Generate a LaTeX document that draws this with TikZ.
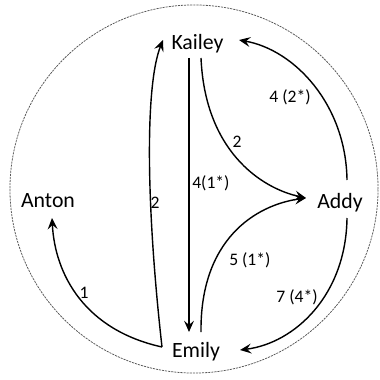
\documentclass[tikz,border=0pt]{standalone}
\usepackage{fontspec}
\setmainfont{Carlito}
\usetikzlibrary{arrows.meta}
\begin{document}
\begin{tikzpicture}[x=0.025cm,y=-0.025cm,
  who/.style={anchor=base, inner sep=0pt, font=\fontsize{15.5}{18}\selectfont},
  lbl/.style={inner sep=0pt, font=\fontsize{12.5}{15}\selectfont},
  link/.style={line width=1pt, -{Stealth[length=8pt,width=7pt,inset=3pt]}}]
\useasboundingbox (0,0) rectangle (380,380);
\draw[black!65, line width=0.55pt, dash pattern=on 1.5pt off 0.7pt] (194,189) ellipse [x radius=4.6cm, y radius=4.6cm];
\node[who] (kai) at (197.5,50) {Kailey};
\node[who] (ant) at (48,207) {Anton};
\node[who] (add) at (340,208) {Addy};
\node[who] (emi) at (196,357) {Emily};
\draw[link] ([shift={(-34,-10)}]emi.base) .. controls (85,330) and (55,275) .. ([shift={(4,11)}]ant.base);
\draw[link] ([shift={(-34,-10)}]emi.base) .. controls (146,205) and (145,85) .. ([shift={(-34.5,-10)}]kai.base);
\draw[link] ([shift={(-8.5,8)}]kai.base) -- ([shift={(-7,-25)}]emi.base);
\draw[link] ([shift={(3.5,8)}]kai.base) .. controls (205,150) and (260,188) .. ([shift={(-34,-10)}]add.base);
\draw[link] ([shift={(5,-25)}]emi.base) .. controls (200,240) and (255,205) .. ([shift={(-34,-10)}]add.base);
\draw[link] ([shift={(7,-28)}]add.base) .. controls (346,105) and (295,50) .. ([shift={(41.5,-10)}]kai.base);
\draw[link] ([shift={(7,10)}]add.base) .. controls (346,295) and (295,343) .. ([shift={(44,-7)}]emi.base);
\node[lbl] (l1) at (84,293) {1};
\node[lbl] (l2) at (155,203) {2};
\node[lbl, anchor=west] (l3) at (192,183) {4(1*)};
\node[lbl] (l4) at (237,142) {2};
\node[lbl, anchor=west] (l5) at (229,260) {5 (1*)};
\node[lbl] (l6) at (290,97) {4 (2*)};
\node[lbl] (l7) at (297,297) {7 (4*)};
\end{tikzpicture}
\end{document}
